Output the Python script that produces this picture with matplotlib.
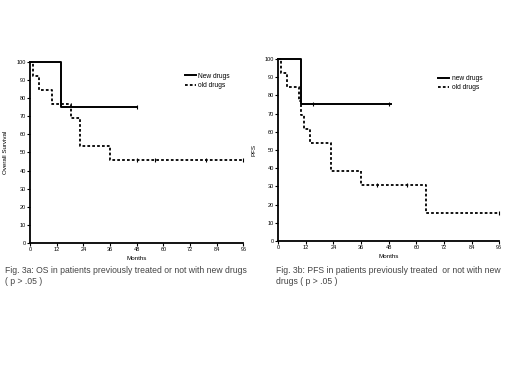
import matplotlib.pyplot as plt

plt.rcParams['font.family'] = ['Liberation Sans', 'DejaVu Sans']

# Fig 3a - overall survival
os_new_t = [0, 14, 48]
os_new_s = [100, 75, 75]
os_old_t = [0, 1.5, 4, 10, 18.5, 22.5, 36, 96]
os_old_s = [100, 92.3, 84.6, 76.9, 69.2, 53.8, 46.1, 46.1]
os_old_cens_t = [48, 56, 79, 96]
os_old_cens_s = [46.1, 46.1, 46.1, 46.1]

# Fig 3b - progression free survival
pfs_new_t = [0, 10, 49]
pfs_new_s = [100, 75, 75]
pfs_new_cens_t = [15, 48]
pfs_new_cens_s = [75, 75]
pfs_old_t = [0, 1.4, 4, 9, 10, 11, 14, 23, 36, 64, 96]
pfs_old_s = [100, 92.3, 84.6, 76.9, 69.2, 61.5, 53.8, 38.5, 30.8, 15.4, 15.4]
pfs_old_cens_t = [43, 56, 96]
pfs_old_cens_s = [30.8, 30.8, 15.4]

xticks = [0, 12, 24, 36, 48, 60, 72, 84, 96]
yticks = [0, 10, 20, 30, 40, 50, 60, 70, 80, 90, 100]

dots = (0, (1.5, 1.2))

fig = plt.figure(figsize=(5.2, 3.9), dpi=100)


def panel(ax, new_t, new_s, old_t, old_s, labels, ylabel, legpos):
    ax.step(new_t, new_s, where='post', color='black', lw=1.4, label=labels[0], clip_on=False)
    ax.step(old_t, old_s, where='post', color='black', lw=1.3, ls=dots, label=labels[1], clip_on=False)
    ax.set_xlim(0, 96)
    ax.set_ylim(0, 100)
    ax.set_xticks(xticks)
    ax.set_yticks(yticks)
    ax.tick_params(labelsize=4, length=2, width=0.8, pad=1)
    for s in ['top', 'right']:
        ax.spines[s].set_visible(False)
    for s in ['left', 'bottom']:
        ax.spines[s].set_linewidth(1.3)
    ax.set_xlabel('Months', fontsize=4.5, labelpad=3)
    ax.set_ylabel(ylabel, fontsize=4.5, labelpad=6)
    ax.legend(loc='upper left', bbox_to_anchor=legpos, fontsize=4.8, frameon=False,
              handlelength=1.6, handletextpad=0.4, labelspacing=0.35, borderpad=0)


ax1 = fig.add_axes([0.058, 0.377, 0.41, 0.464])
panel(ax1, os_new_t, os_new_s, os_old_t, os_old_s, ['New drugs', 'old drugs'], 'Overall Survival',
      (0.71, 0.96))
ax1.plot(os_old_cens_t, os_old_cens_s, '|', color='black', ms=3, mew=0.8, clip_on=False)
ax1.plot([os_new_t[-1]], [os_new_s[-1]], '|', color='black', ms=3, mew=0.8, clip_on=False)

ax2 = fig.add_axes([0.535, 0.382, 0.425, 0.467])
panel(ax2, pfs_new_t, pfs_new_s, pfs_old_t, pfs_old_s, ['new drugs', 'old drugs'], 'PFS',
      (0.71, 0.93))
ax2.plot(pfs_new_cens_t, pfs_new_cens_s, '|', color='black', ms=3, mew=0.8, clip_on=False)
ax2.plot(pfs_old_cens_t, pfs_old_cens_s, '|', color='black', ms=3, mew=0.8, clip_on=False)

fig.text(0.01, 0.318, 'Fig. 3a: OS in patients previously treated or not with new drugs\n( p > .05 )',
         fontsize=6.2, color='#444444', va='top', linespacing=1.3)
fig.text(0.531, 0.318, 'Fig. 3b: PFS in patients previously treated  or not with new\ndrugs ( p > .05 )',
         fontsize=6.2, color='#444444', va='top', linespacing=1.3)

plt.savefig('out.png', dpi=100)
